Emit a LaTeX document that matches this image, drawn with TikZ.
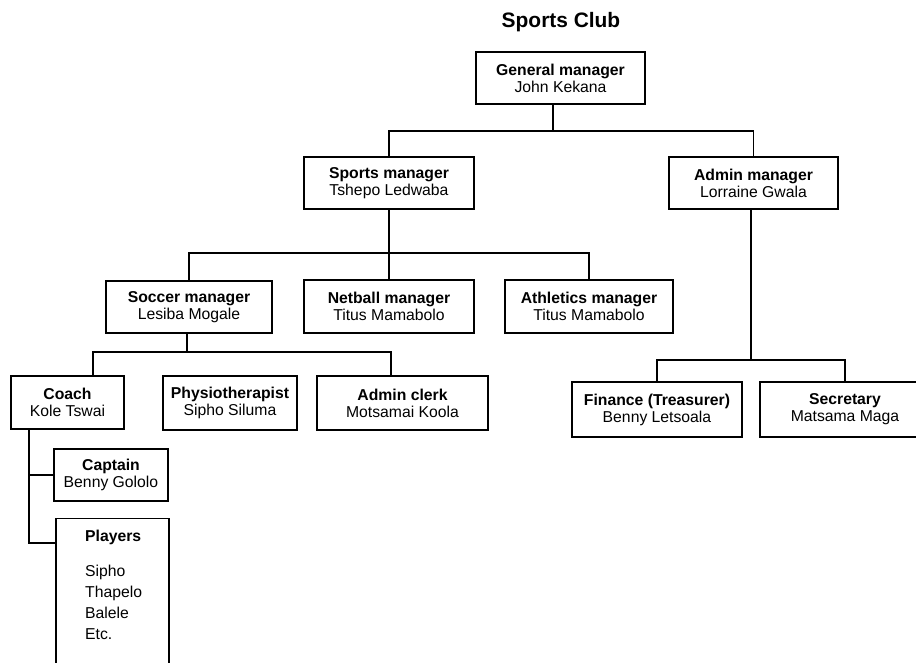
\documentclass[tikz,border=0pt]{standalone}
\usepackage{fontspec}
\setmainfont{Liberation Sans}
\usepackage{tikz}
\usetikzlibrary{calc}
\tikzset{
	post/.style={draw, line width=1.5pt, align=center, inner sep=0pt, minimum height=52pt, font=\fontsize{15.8}{17}\selectfont},
	link/.style={line width=1.5pt}
}
\def\who#1#2{\textbf{#1}\\#2}

\begin{document}
\begin{tikzpicture}[x=1bp, y=-1bp]
				\useasboundingbox (0,0) rectangle (916,663);
				\clip (0,0) rectangle (916,663);
				
				\node[font=\bfseries\fontsize{21}{24}\selectfont] (title) at (561,22) {Sports Club};
				
				\node[post, minimum width=169bp] (gm) at (560.5,78) {\who{General manager}{John Kekana}};
				\node[post, minimum width=170bp] (sm) at (389,183) {\who{Sports manager}{Tshepo Ledwaba}};
				\node[post, minimum width=169bp] (am) at (753.5,183) {\who{Admin manager}{Lorraine Gwala}};
				
				\node[post, minimum width=166bp] (soc) at (189,307) {\who{Soccer manager}{Lesiba Mogale}};
				\node[post, minimum width=170bp, minimum height=53bp] (net) at (389,306.5) {\who{Netball manager}{Titus Mamabolo}};
				\node[post, minimum width=168bp, minimum height=53bp] (ath) at (589,306.5) {\who{Athletics manager}{Titus Mamabolo}};
				
				\node[post, minimum width=113bp, minimum height=53bp] (coach) at (67.5,402.5) {\who{Coach}{Kole Tswai}};
				\node[post, minimum width=134bp, minimum height=54bp] (phys) at (230,403) {\who{Physiotherapist}{Sipho Siluma}};
				\node[post, minimum width=171bp, minimum height=54bp] (clerk) at (402.5,403) {\who{Admin clerk}{Motsamai Koola}};
				
				\node[post, minimum width=170bp, minimum height=55bp] (fin) at (657,409.5) {\who{Finance (Treasurer)}{Benny Letsoala}};
				\node[post, minimum width=170bp, minimum height=55bp] (sec) at (845,409.5) {\who{Secretary}{Matsama Maga}};
				
				\node[post, minimum width=114bp] (cap) at (111,475) {\who{Captain}{Benny Gololo}};
				\node[post, minimum width=113bp, minimum height=180bp, anchor=north] (players) at (112.5,518) {};
				\node[anchor=north west, align=left, inner sep=0pt, font=\fontsize{15.8}{21}\selectfont] (plist) at (85,530) {\textbf{Players}\\[14pt]Sipho\\Thapelo\\Balele\\Etc.};
				
				\coordinate (gmj) at (553,131);
				\draw[link] (gm.south -| gmj) -- (gmj);
				\draw[link] (sm.north) |- (gmj) -| (am.north);
				
				\coordinate (smj) at (389,253);
				\draw[link] (sm.south -| smj) -- (smj);
				\draw[link] (soc.north) |- (smj) -| (ath.north);
				\draw[link] (net.north) -- (net.north |- smj);
				
				\coordinate (socj) at (187,352);
				\draw[link] (soc.south -| socj) -- (socj);
				\draw[link] ([xshift=25.5bp]coach.north) |- (socj) -| ([xshift=-11.5bp]clerk.north);
				
				\coordinate (amj) at (751,360);
				\draw[link] (am.south -| amj) -- (amj);
				\draw[link] (fin.north) |- (amj) -| (sec.north);
				
				\coordinate (cj) at (29,543);
				\draw[link] (coach.south -| cj) -- (cj) -- (cj -| players.west);
				\draw[link] (cap.west) -- (cap.west -| cj);
			\end{tikzpicture}
\end{document}
